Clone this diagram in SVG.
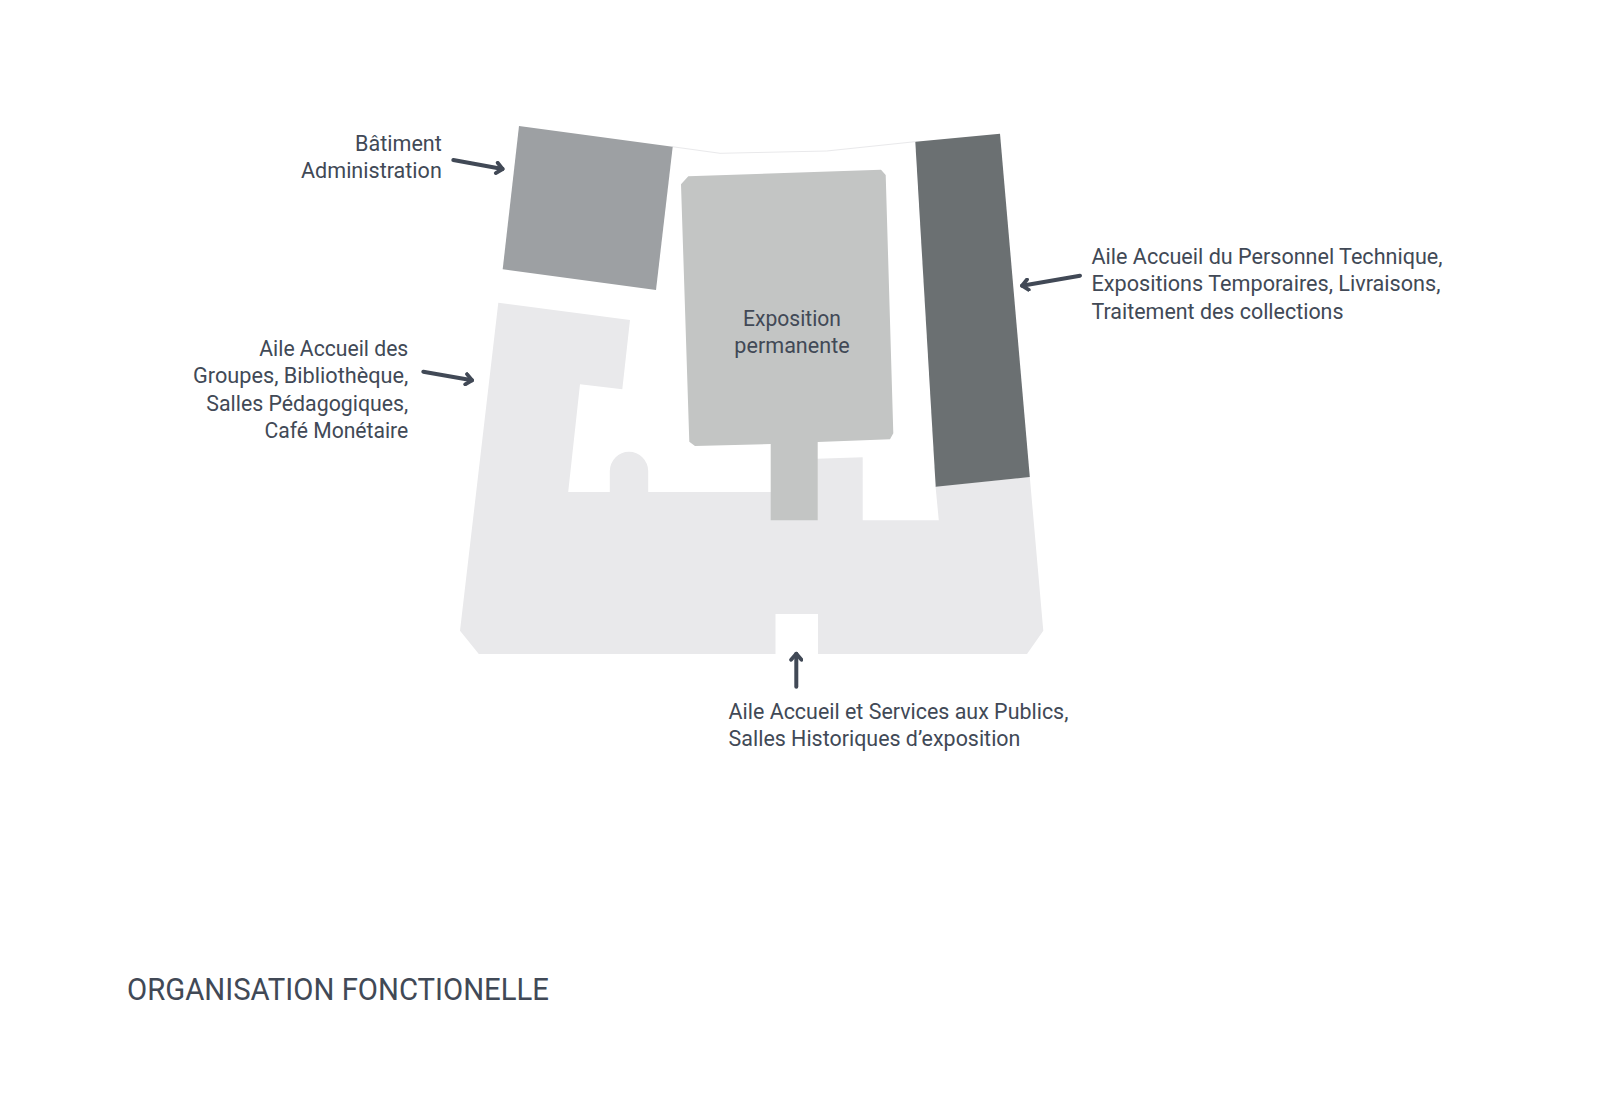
<svg xmlns="http://www.w3.org/2000/svg" width="1600" height="1100" viewBox="0 0 1600 1100">
<style>
.lbl{font-family:"Roboto","Liberation Sans",sans-serif;font-size:22px;fill:#414956}
.end{text-anchor:end}
.mid{text-anchor:middle}
.title{font-family:"Roboto","Liberation Sans",sans-serif;font-size:31px;fill:#414956}
.arrow{fill:none;stroke:#414956;stroke-width:4;stroke-linecap:round;marker-end:url(#head)}
</style>
<defs>
<marker id="head" viewBox="0 0 12 14" refX="9.6" refY="7" markerWidth="12" markerHeight="14" markerUnits="userSpaceOnUse" orient="auto">
<path d="M3.6 1.8L9.6 7L3.6 12.2" fill="none" stroke="#414956" stroke-width="3.8" stroke-linecap="round" stroke-linejoin="round"/>
</marker>
</defs>
<rect width="1600" height="1100" fill="#ffffff"/>
<path d="M672.3 146.7L720 153.3L826.7 151L915 141.7" fill="none" stroke="#e9e9eb" stroke-width="1"/>
<g id="aile-accueil-publics">
<path d="M498.3 302.7L630 320L622.3 389.3L580 384.3L568.2 492H609.8V471A19.2 19.2 0 0 1 648.2 471V492H771V460.3L862.7 457.3V520.3H938.8L935.5 486L1029.8 477L1043.3 630.7L1027 654H818V614H775.5V654H478.8L460 630.7Z" fill="#e9e9eb"/>
</g>
<g id="batiment-administration">
<polygon points="519,126 672.7,146.7 656,290 502.7,269.3" fill="#9da0a3"/>
</g>
<g id="aile-technique">
<polygon points="915.3,141.8 1000,133.7 1029.8,477 935.7,486.7" fill="#6b7072"/>
</g>
<g id="exposition-permanente">
<path d="M681 184.3L688.3 176.3L881 169.7L885.7 175L893.3 433.3L890 439.3L817.7 442V520.3H770.7V444L695 446L689.3 441.7Z" fill="#c3c5c4"/>
<text class="lbl mid" x="792" y="325.5" textLength="98" lengthAdjust="spacingAndGlyphs">Exposition</text>
<text class="lbl mid" x="792" y="352.5" textLength="115.3" lengthAdjust="spacingAndGlyphs">permanente</text>
</g>
<g id="labels">
<text class="lbl end" x="441.8" y="151" textLength="86.7" lengthAdjust="spacingAndGlyphs">Bâtiment</text>
<text class="lbl end" x="441.8" y="178.2" textLength="140.8" lengthAdjust="spacingAndGlyphs">Administration</text>
<text class="lbl end" x="408.3" y="356" textLength="149" lengthAdjust="spacingAndGlyphs">Aile Accueil des</text>
<text class="lbl end" x="408.3" y="383.2" textLength="215.3" lengthAdjust="spacingAndGlyphs">Groupes, Bibliothèque,</text>
<text class="lbl end" x="408.3" y="410.8" textLength="202" lengthAdjust="spacingAndGlyphs">Salles Pédagogiques,</text>
<text class="lbl end" x="408.3" y="438" textLength="143.9" lengthAdjust="spacingAndGlyphs">Café Monétaire</text>
<text class="lbl" x="1091.5" y="264" textLength="351" lengthAdjust="spacingAndGlyphs">Aile Accueil du Personnel Technique,</text>
<text class="lbl" x="1091.5" y="291" textLength="349" lengthAdjust="spacingAndGlyphs">Expositions Temporaires, Livraisons,</text>
<text class="lbl" x="1091.5" y="318.7" textLength="252" lengthAdjust="spacingAndGlyphs">Traitement des collections</text>
<text class="lbl" x="728.6" y="718.8" textLength="339.8" lengthAdjust="spacingAndGlyphs">Aile Accueil et Services aux Publics,</text>
<text class="lbl" x="728.6" y="746" textLength="291.8" lengthAdjust="spacingAndGlyphs">Salles Historiques d’exposition</text>
<text class="title" x="127" y="1000" textLength="422" lengthAdjust="spacingAndGlyphs">ORGANISATION FONCTIONELLE</text>
</g>
<g id="connectors">
<line class="arrow" x1="453.3" y1="160" x2="502.6" y2="169"/>
<line class="arrow" x1="423.3" y1="371.7" x2="472" y2="380.3"/>
<line class="arrow" x1="1080" y1="275.7" x2="1022" y2="285.7"/>
<line class="arrow" x1="796.3" y1="686.7" x2="796.3" y2="653.8"/>
</g>
</svg>
